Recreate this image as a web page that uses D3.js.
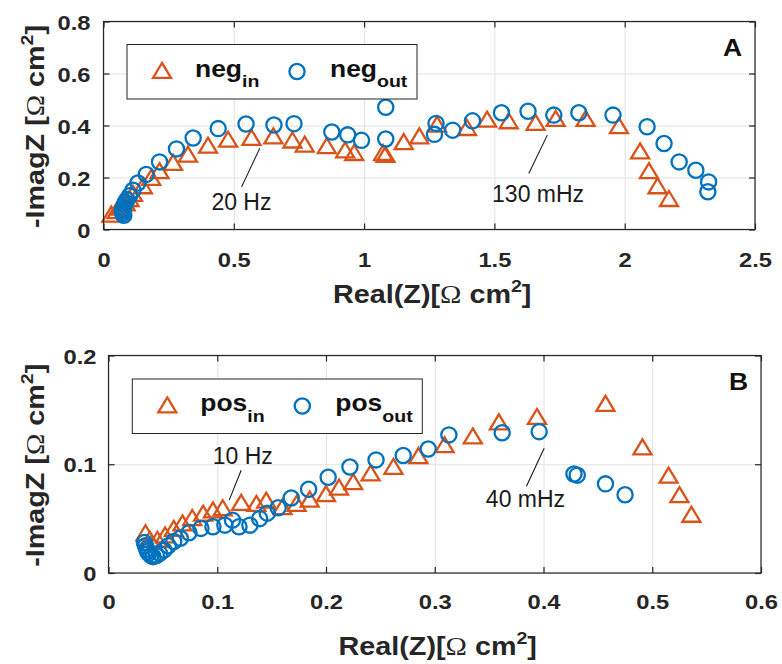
<!doctype html>
<html lang="en">
<head>
<meta charset="utf-8">
<title>Impedance spectra, neg / pos</title>
<script src="https://d3js.org/d3.v7.min.js"></script>
<style>
  body { margin: 0; background: #fff; }
</style>
</head>
<body>
<div id="chart"></div>
<script>
// ---- data: Re(Z) and -Im(Z) in ohm cm2 ----
var negInRe  = [0.03,0.05,0.065,0.085,0.1,0.113,0.151,0.183,0.215,0.267,0.324,0.401,0.478,0.568,0.652,0.725,0.772,0.857,0.927,0.962,1.073,1.082,1.152,1.212,1.28,1.395,1.472,1.555,1.658,1.735,1.85,1.978,2.059,2.093,2.126,2.17];
var negInIm  = [0.055,0.068,0.082,0.098,0.115,0.135,0.164,0.196,0.222,0.254,0.286,0.32,0.343,0.35,0.356,0.34,0.324,0.318,0.302,0.292,0.292,0.285,0.334,0.356,0.401,0.388,0.42,0.414,0.408,0.423,0.423,0.395,0.298,0.222,0.164,0.115];
var negOutRe = [0.078,0.074,0.072,0.074,0.077,0.08,0.084,0.09,0.1,0.113,0.132,0.164,0.215,0.28,0.344,0.44,0.547,0.654,0.731,0.876,0.937,0.99,1.083,1.083,1.27,1.276,1.34,1.416,1.527,1.629,1.728,1.824,1.955,2.086,2.151,2.209,2.273,2.322,2.319];
var negOutIm = [0.055,0.062,0.07,0.078,0.086,0.095,0.105,0.115,0.13,0.151,0.179,0.212,0.26,0.31,0.352,0.388,0.406,0.402,0.407,0.375,0.364,0.343,0.47,0.348,0.366,0.408,0.382,0.418,0.449,0.455,0.44,0.449,0.44,0.395,0.331,0.26,0.228,0.183,0.145];

var posInRe  = [0.034,0.038,0.045,0.052,0.06,0.068,0.077,0.087,0.096,0.105,0.122,0.136,0.145,0.16,0.173,0.185,0.2,0.212,0.225,0.241,0.262,0.285,0.309,0.335,0.359,0.394,0.457,0.491,0.515,0.525,0.536];
var posInIm  = [0.036,0.03,0.03,0.034,0.04,0.045,0.05,0.054,0.057,0.059,0.064,0.063,0.066,0.06,0.063,0.067,0.072,0.078,0.083,0.091,0.097,0.107,0.117,0.125,0.138,0.143,0.155,0.115,0.089,0.071,0.053];
var posOutRe = [0.033,0.034,0.035,0.036,0.037,0.039,0.041,0.044,0.047,0.051,0.055,0.06,0.066,0.074,0.085,0.096,0.107,0.114,0.12,0.13,0.139,0.146,0.156,0.168,0.184,0.202,0.222,0.246,0.271,0.294,0.313,0.362,0.396,0.428,0.431,0.457,0.475];
var posOutIm = [0.028,0.025,0.022,0.02,0.018,0.016,0.015,0.016,0.018,0.021,0.025,0.029,0.032,0.037,0.041,0.0425,0.044,0.0486,0.0425,0.044,0.05,0.055,0.06,0.069,0.077,0.088,0.0975,0.104,0.108,0.114,0.127,0.129,0.13,0.091,0.09,0.082,0.072];

// ticks
var negXTicks = [0,0.5,1,1.5,2,2.5];
var negYTicks = [0,0.2,0.4,0.6,0.8];
var posXTicks = [0,0.1,0.2,0.3,0.4,0.5,0.6];
var posYTicks = [0,0.1,0.2];

// frequency notes: label, text anchor (data units), leader line from -> to
var negNoteText = ["20 Hz","130 mHz"];
var negNoteAt   = [[0.414,0.074],[1.491,0.106]];
var negNoteLine = [[0.6,0.313,0.53,0.164],[1.703,0.363,1.632,0.215]];
var posNoteText = ["10 Hz","40 mHz"];
var posNoteAt   = [[0.0958,0.1006],[0.347,0.0608]];
var posNoteLine = [[0.122,0.0945,0.111,0.067],[0.4006,0.1147,0.3843,0.0798]];

var width = 782, height = 664;
var orange = "#d95319", blue = "#0072bd", ink = "#262626";
var sans = "'Liberation Sans', Arial, sans-serif";
var serif = "'Liberation Serif', 'Times New Roman', serif";
var fmt = d3.format("~g");
var tri = "M0,-8.6L9,6.4L-9,6.4Z";   // '^' marker
var rad = 7.6;                      // 'o' marker

var svg = d3.select("#chart").append("svg")
  .attr("width", width).attr("height", height)
  .style("font-family", sans);

function zip(a, b) { return a.map(function(v, i) { return [v, b[i]]; }); }

function drawPanel(p) {
  var g = svg.append("g");
  var x = d3.scaleLinear().domain(p.xDomain).range([p.left, p.right]);
  var y = d3.scaleLinear().domain(p.yDomain).range([p.bottom, p.top]);
  var h = p.bottom - p.top, w = p.right - p.left;

  // grid
  var gx = g.append("g").attr("transform", "translate(0," + p.bottom + ")")
    .call(d3.axisBottom(x).tickValues(p.xTicks).tickSize(-h).tickFormat(""));
  var gy = g.append("g").attr("transform", "translate(" + p.left + ",0)")
    .call(d3.axisLeft(y).tickValues(p.yTicks).tickSize(-w).tickFormat(""));
  [gx, gy].forEach(function(s) {
    s.select(".domain").remove();
    s.selectAll("line").attr("stroke", "#e2e2e2").attr("stroke-width", 1);
  });

  // markers: triangles first, circles over them
  g.append("g").selectAll("path")
    .data(zip(p.inRe, p.inIm))
    .enter().append("path")
    .attr("d", tri)
    .attr("transform", function(d) { return "translate(" + x(d[0]) + "," + y(d[1]) + ")"; })
    .attr("fill", "none").attr("stroke", orange).attr("stroke-width", 2.3);

  g.append("g").selectAll("circle")
    .data(zip(p.outRe, p.outIm))
    .enter().append("circle")
    .attr("cx", function(d) { return x(d[0]); })
    .attr("cy", function(d) { return y(d[1]); })
    .attr("r", rad)
    .attr("fill", "none").attr("stroke", blue).attr("stroke-width", 2.3);

  // frame + inward ticks on all sides
  g.append("rect").attr("x", p.left).attr("y", p.top).attr("width", w).attr("height", h)
    .attr("fill", "none").attr("stroke", ink).attr("stroke-width", 1.2);

  var bottom = g.append("g").attr("transform", "translate(0," + p.bottom + ")")
    .call(d3.axisBottom(x).tickValues(p.xTicks).tickSizeInner(-6).tickSizeOuter(0).tickFormat(fmt));
  var left = g.append("g").attr("transform", "translate(" + p.left + ",0)")
    .call(d3.axisLeft(y).tickValues(p.yTicks).tickSizeInner(-6).tickSizeOuter(0).tickFormat(fmt));
  var top = g.append("g").attr("transform", "translate(0," + p.top + ")")
    .call(d3.axisTop(x).tickValues(p.xTicks).tickSizeInner(-6).tickSizeOuter(0).tickFormat(""));
  var right = g.append("g").attr("transform", "translate(" + p.right + ",0)")
    .call(d3.axisRight(y).tickValues(p.yTicks).tickSizeInner(-6).tickSizeOuter(0).tickFormat(""));
  [bottom, left, top, right].forEach(function(s) {
    s.select(".domain").remove();
    s.selectAll("line").attr("stroke", ink).attr("stroke-width", 1.2);
  });

  bottom.selectAll("text")
    .attr("y", 0).attr("dy", null)
    .attr("transform", "translate(0," + p.xLabelGap + ") scale(1.13,1)")
    .attr("font-family", sans).attr("font-weight", "bold").attr("font-size", 21).attr("fill", ink);
  left.selectAll("text")
    .attr("x", 0).attr("dy", "0.36em")
    .attr("transform", "translate(" + (-p.yLabelGap) + ",0) scale(1.13,1)")
    .attr("font-family", sans).attr("font-weight", "bold").attr("font-size", 21).attr("fill", ink);

  // axis titles
  var xt = g.append("text")
    .attr("transform", "translate(" + ((p.left + p.right) / 2 + 3) + "," + p.xTitleY + ") scale(1.15,1)")
    .attr("text-anchor", "middle").attr("font-weight", "bold").attr("font-size", 25).attr("fill", ink);
  xt.append("tspan").text("Real(Z)[");
  xt.append("tspan").text("\u03A9").attr("font-family", serif).attr("font-weight", "normal");
  xt.append("tspan").text(" cm");
  xt.append("tspan").text("2").attr("font-size", 17).attr("dy", -11);
  xt.append("tspan").text("]").attr("dy", 11);

  var yt = g.append("text")
    .attr("transform", "translate(44," + ((p.top + p.bottom) / 2 + 1) + ") rotate(-90) scale(1.15,1)")
    .attr("text-anchor", "middle").attr("font-weight", "bold").attr("font-size", 25).attr("fill", ink);
  yt.append("tspan").text("-ImagZ [");
  yt.append("tspan").text("\u03A9").attr("font-family", serif).attr("font-weight", "normal");
  yt.append("tspan").text(" cm");
  yt.append("tspan").text("2").attr("font-size", 17).attr("dy", -11);
  yt.append("tspan").text("]").attr("dy", 11);

  // frequency notes
  p.noteLine.forEach(function(l) {
    g.append("line")
      .attr("x1", x(l[0])).attr("y1", y(l[1])).attr("x2", x(l[2])).attr("y2", y(l[3]))
      .attr("stroke", "#1a1a1a").attr("stroke-width", 1.1);
  });
  p.noteText.forEach(function(t, i) {
    g.append("text").text(t)
      .attr("x", x(p.noteAt[i][0])).attr("y", y(p.noteAt[i][1]))
      .attr("font-size", 23).attr("fill", "#1a1a1a");
  });

  // panel letter
  g.append("text").text(p.letter)
    .attr("transform", "translate(" + (p.right - 13) + "," + (p.top + 34) + ") scale(1.15,1)")
    .attr("text-anchor", "end").attr("font-weight", "bold").attr("font-size", 23).attr("fill", "#111");

  // legend
  var lg = g.append("g").attr("transform", "translate(" + p.legend[0] + "," + p.legend[1] + ")");
  lg.append("rect").attr("width", 290).attr("height", 54.5)
    .attr("fill", "#fff").attr("stroke", ink).attr("stroke-width", 1);
  var cy = 27;
  lg.append("path").attr("d", tri)
    .attr("transform", "translate(35," + cy + ")")
    .attr("fill", "none").attr("stroke", orange).attr("stroke-width", 2.3);
  lg.append("circle").attr("cx", 170).attr("cy", cy).attr("r", rad)
    .attr("fill", "none").attr("stroke", blue).attr("stroke-width", 2.3);
  [[68, "in"], [203, "out"]].forEach(function(it) {
    var t = lg.append("text")
      .attr("transform", "translate(" + it[0] + "," + (cy + 5) + ") scale(1.15,1)")
      .attr("font-weight", "bold").attr("font-size", 23).attr("fill", "#111");
    t.append("tspan").text(p.name);
    t.append("tspan").text(it[1]).attr("font-size", 17).attr("dy", 10.5);
  });
}

drawPanel({
  left: 103.5, right: 755, top: 21.5, bottom: 229.5,
  xDomain: [0, 2.5], yDomain: [0, 0.8],
  xTicks: negXTicks, yTicks: negYTicks,
  xLabelGap: 37.5, yLabelGap: 13, xTitleY: 303,
  inRe: negInRe, inIm: negInIm, outRe: negOutRe, outIm: negOutIm,
  noteText: negNoteText, noteAt: negNoteAt, noteLine: negNoteLine,
  letter: "A", name: "neg", legend: [127, 44.5]
});

drawPanel({
  left: 108.5, right: 761, top: 355.5, bottom: 573,
  xDomain: [0, 0.6], yDomain: [0, 0.2],
  xTicks: posXTicks, yTicks: posYTicks,
  xLabelGap: 36, yLabelGap: 12, xTitleY: 655,
  inRe: posInRe, inIm: posInIm, outRe: posOutRe, outIm: posOutIm,
  noteText: posNoteText, noteAt: posNoteAt, noteLine: posNoteLine,
  letter: "B", name: "pos", legend: [132.3, 379]
});
</script>
</body>
</html>
